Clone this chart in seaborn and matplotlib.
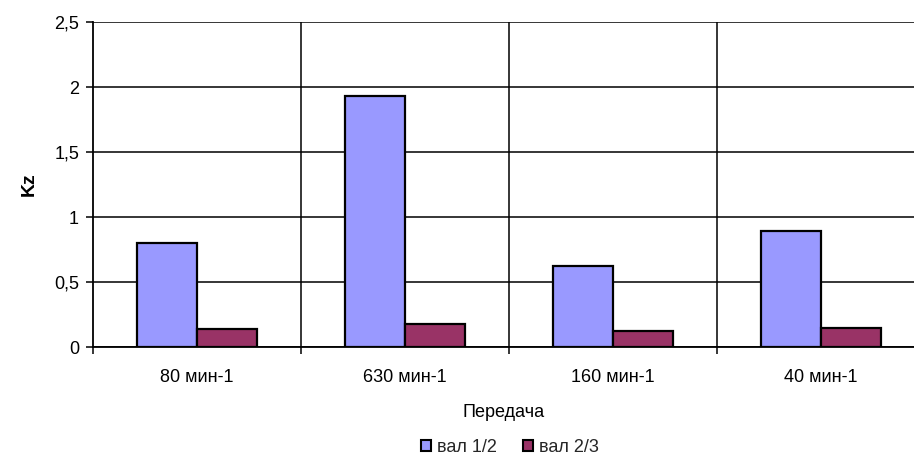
import matplotlib
matplotlib.use("Agg")
import matplotlib.pyplot as plt
from matplotlib.patches import Patch
import seaborn as sns
import pandas as pd

categories = ["80 мин-1", "630 мин-1", "160 мин-1", "40 мин-1"]
series_names = ["вал 1/2", "вал 2/3"]
val_12 = [0.80, 1.93, 0.62, 0.89]
val_23 = [0.14, 0.18, 0.12, 0.15]
y_ticks = [0, 0.5, 1, 1.5, 2, 2.5]
y_tick_labels = ["0", "0,5", "1", "1,5", "2", "2,5"]
colors = ["#9999FF", "#993366"]

df = pd.DataFrame({
    "Передача": categories * 2,
    "Kz": val_12 + val_23,
    "series": [series_names[0]] * 4 + [series_names[1]] * 4,
})

sns.set_theme(style="white")
plt.rcParams["font.family"] = ["Liberation Sans", "DejaVu Sans"]

fig = plt.figure(figsize=(9.14, 4.57), dpi=100)
ax = fig.add_axes([93 / 914, 1 - 347 / 457, 1 - 93 / 914, (347 - 22) / 457])

sns.barplot(data=df, x="Передача", y="Kz", hue="series", order=categories,
            hue_order=series_names, palette=colors, width=0.58,
            edgecolor="black", linewidth=1.6, saturation=1, ax=ax,
            legend=False, zorder=3)

ax.set_ylim(0, 2.5)
ax.set_xlim(-0.5, -0.5 + 821 / 208)
ax.set_yticks(y_ticks)
ax.set_yticklabels(y_tick_labels)
ax.yaxis.grid(True, color="black", linewidth=1.1, zorder=0)
for xb in [0.5, 1.5, 2.5]:
    ax.axvline(xb, color="black", linewidth=1.1, zorder=0)

ax.set_xticks([0, 1, 2, 3])
ax.set_xticklabels(categories)
ax.set_xticks([-0.5, 0.5, 1.5, 2.5], minor=True)
ax.tick_params(axis="x", which="major", length=0, pad=16, labelsize=13, colors="black")
ax.tick_params(axis="x", which="minor", bottom=True, length=5, width=1.1, color="black")
ax.tick_params(axis="y", left=True, length=5, width=1.1, color="black", labelsize=13,
               labelcolor="black", pad=5)

for side in ["top", "right"]:
    ax.spines[side].set_visible(False)
for side in ["left", "bottom"]:
    ax.spines[side].set_color("black")
    ax.spines[side].set_linewidth(1.3)

ax.set_ylabel("Kz", fontsize=14, fontweight="bold", color="black", labelpad=12)
ax.set_xlabel("Передача", fontsize=13, color="black", labelpad=13)

handles = [Patch(facecolor=c, edgecolor="black", linewidth=1.5) for c in colors]
fig.legend(handles, series_names, loc="center", bbox_to_anchor=(510 / 914, 1 - 447 / 457),
           ncol=2, frameon=False, fontsize=13, handlelength=0.55, handleheight=0.55,
           handletextpad=0.35, columnspacing=1.4)

fig.savefig("out.png", dpi=100)
